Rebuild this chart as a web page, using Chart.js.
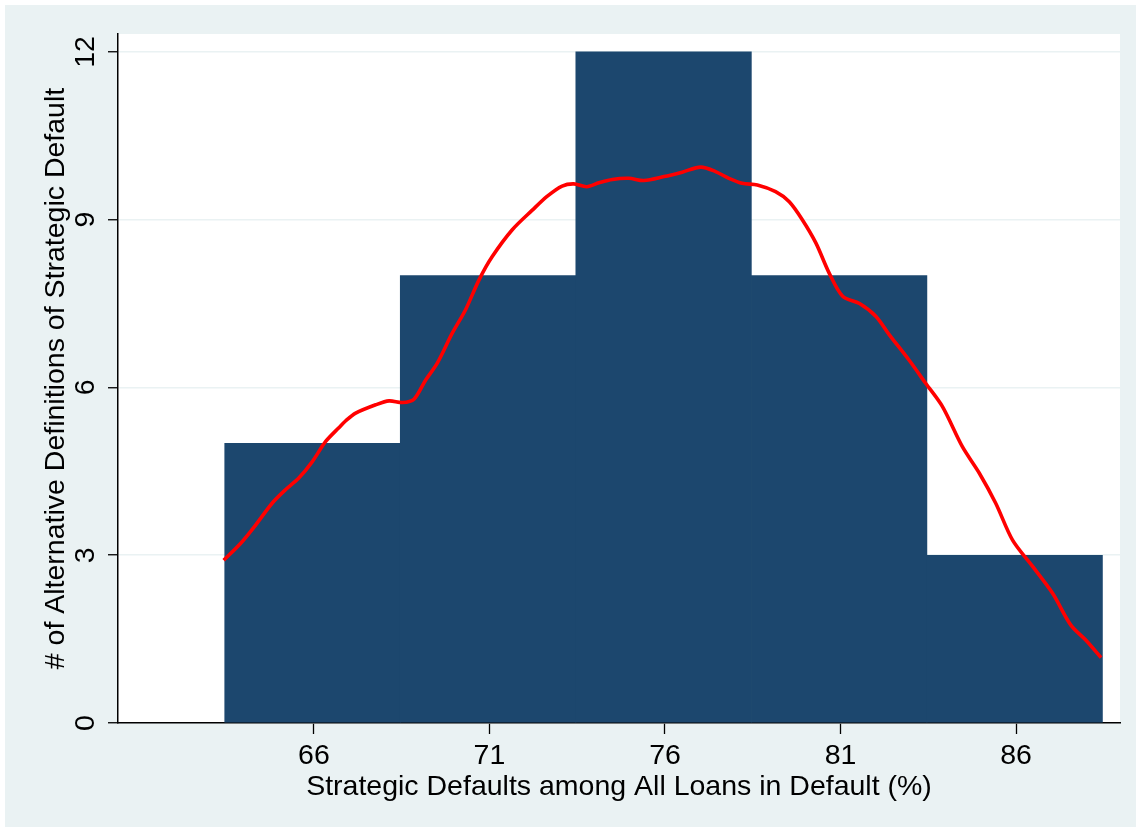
<!DOCTYPE html>
<html>
<head>
<meta charset="utf-8">
<script src="https://cdn.jsdelivr.net/npm/chart.js@4"></script>
<style>
  html, body { margin: 0; padding: 0; background: #fff; }
  canvas { display: block; }
</style>
</head>
<body>
<canvas id="histChart" width="1141" height="832"></canvas>
<script>
// histogram bins (centre of each 5-point bin) and counts
var binCenters = [65.96, 70.96, 75.96, 80.96, 85.96];
var binCounts = [5, 8, 12, 8, 3];

// kernel density curve, scaled to counts
var densityX = [63.43, 63.91, 64.34, 64.81, 65.19, 65.57, 65.95, 66.33, 66.71, 66.90, 67.19, 67.76, 68.14, 68.52, 68.85,
    69.18, 69.51, 69.94, 70.32, 70.70, 71.08, 71.65, 72.22, 72.65, 73.07, 73.40, 73.77, 74.12, 74.50, 74.97,
    75.40, 75.97, 76.49, 77.02, 77.44, 77.82, 78.20, 78.63, 79.15, 79.54, 79.92, 80.30, 80.68, 81.06, 81.54,
    82.01, 82.38, 82.95, 83.43, 83.90, 84.47, 84.95, 85.42, 85.90, 86.47, 87.04, 87.56, 87.99, 88.42];
var densityY = [2.91, 3.21, 3.54, 3.93, 4.17, 4.38, 4.67, 5.03, 5.28, 5.40, 5.54, 5.69, 5.76, 5.73, 5.79,
    6.13, 6.43, 6.97, 7.39, 7.92, 8.34, 8.82, 9.17, 9.42, 9.60, 9.64, 9.59, 9.66, 9.72, 9.74,
    9.70, 9.77, 9.85, 9.94, 9.86, 9.74, 9.65, 9.62, 9.50, 9.32, 8.99, 8.58, 8.04, 7.63, 7.50,
    7.27, 6.95, 6.49, 6.07, 5.66, 4.94, 4.47, 3.93, 3.27, 2.80, 2.32, 1.75, 1.48, 1.17];

var xTicks = [66, 71, 76, 81, 86];
var yTicks = [0, 3, 6, 9, 12];

var xTitle = 'Strategic Defaults among All Loans in Default (%)';
var yTitle = '# of Alternative Definitions of Strategic Default';

var fontFamily = "'Liberation Sans', Arial, Helvetica, sans-serif";
var fontSize = 28.5;

var barData = binCenters.map((x, i) => ({ x: x, y: binCounts[i] }));
var lineData = densityX.map((x, i) => ({ x: x, y: densityY[i] }));

// Stata-like background: white edge, bluish-gray graph region, white plot region
var backgroundPlugin = {
    id: 'stataBackground',
    beforeDraw(chart) {
        var ctx = chart.ctx;
        var area = chart.chartArea;
        ctx.save();
        ctx.fillStyle = '#ffffff';
        ctx.fillRect(0, 0, chart.width, chart.height);
        ctx.fillStyle = '#eaf2f3';
        ctx.fillRect(5, 5, chart.width - 10, chart.height - 10);
        ctx.fillStyle = '#ffffff';
        ctx.fillRect(area.left, area.top, area.right - area.left, area.bottom - area.top);
        ctx.restore();
    }
};

var myChart = new Chart(document.getElementById('histChart'), {
    type: 'bar',
    data: {
        datasets: [{
            type: 'bar',
            data: barData,
            backgroundColor: '#1c476e',
            borderWidth: 0,
            barPercentage: 1.0,
            categoryPercentage: 1.0,
            order: 2
        }, {
            type: 'line',
            data: lineData,
            borderColor: '#ff0000',
            borderWidth: 3.6,
            pointRadius: 0,
            tension: 0.3,
            fill: false,
            order: 1
        }]
    },
    options: {
        responsive: false,
        animation: false,
        layout: { padding: { left: 5, right: 21, top: 34, bottom: 5 } },
        plugins: {
            legend: { display: false },
            tooltip: { enabled: false }
        },
        scales: {
            x: {
                type: 'linear',
                offset: false,
                min: 60.42,
                max: 88.96,
                afterBuildTicks: (scale) => { scale.ticks = xTicks.map(v => ({ value: v })); },
                afterFit: (scale) => { scale.height = 104; },
                grid: {
                    display: true,
                    offset: false,
                    drawOnChartArea: false,
                    drawTicks: true,
                    tickLength: 11,
                    tickColor: '#000',
                    tickWidth: 1.3
                },
                border: { display: true, color: '#000', width: 1.5 },
                ticks: {
                    color: '#000',
                    padding: 5,
                    maxRotation: 0,
                    font: { family: fontFamily, size: fontSize }
                },
                title: {
                    display: true,
                    text: xTitle,
                    color: '#000',
                    padding: { top: 0, bottom: 22.5 },
                    font: { family: fontFamily, size: fontSize }
                }
            },
            y: {
                min: 0,
                max: 12.32,
                afterBuildTicks: (scale) => { scale.ticks = yTicks.map(v => ({ value: v })); },
                afterFit: (scale) => { scale.width = 113; },
                grid: {
                    color: '#eaf2f3',
                    lineWidth: 1.5,
                    drawTicks: true,
                    tickLength: 10,
                    tickColor: '#000',
                    tickWidth: 1.3
                },
                border: { display: true, color: '#000', width: 1.5 },
                ticks: {
                    color: '#000',
                    minRotation: 90,
                    maxRotation: 90,
                    crossAlign: 'center',
                    padding: 6,
                    font: { family: fontFamily, size: fontSize }
                },
                title: {
                    display: true,
                    text: yTitle,
                    color: '#000',
                    padding: { top: 34, bottom: 0 },
                    font: { family: fontFamily, size: fontSize }
                }
            }
        }
    },
    plugins: [backgroundPlugin]
});
</script>
</body>
</html>
